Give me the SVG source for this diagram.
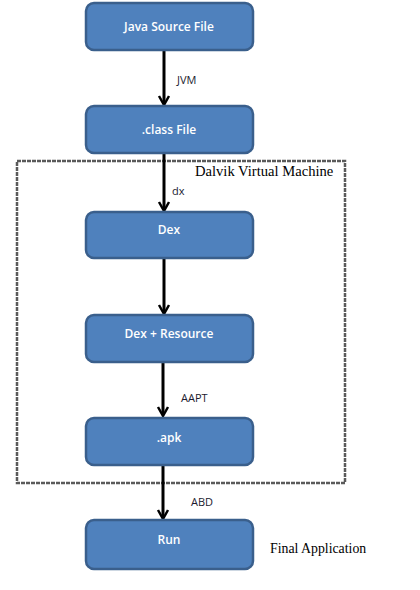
<svg xmlns="http://www.w3.org/2000/svg" width="420" height="590" viewBox="0 0 420 590">
<defs>
<style>
.node rect{fill:#4F81BD;stroke:#3A5F8C;stroke-width:2.5}
.node text{fill:#fff;font-family:"Open Sans","Liberation Sans",sans-serif;font-size:12px;font-weight:600;text-anchor:middle}
.lbl{fill:#1a1a2e;font-family:"Open Sans","Liberation Sans",sans-serif;font-size:11px}
.ser{fill:#000;font-family:"Liberation Serif",serif;font-size:14.6px}
.conn line{stroke:#000;stroke-width:3}
.conn path{fill:none;stroke:#000;stroke-width:2.5}
</style>
</defs>
<rect x="17" y="161" width="328" height="322" fill="none" stroke="#5a5a5a" stroke-width="2.5" stroke-dasharray="4 1"/>
<text class="ser" x="195" y="176">Dalvik Virtual Machine</text>
<g class="conn">
<line x1="164" y1="51" x2="164" y2="104"/><path d="M159 96 L164 105 L169 96"/>
<line x1="164" y1="154" x2="164" y2="210"/><path d="M159 202 L164 211 L169 202"/>
<line x1="164" y1="258" x2="164" y2="313"/><path d="M159 305 L164 314 L169 305"/>
<line x1="163" y1="363" x2="163" y2="415"/><path d="M158 407 L163 416 L168 407"/>
<line x1="163" y1="466" x2="163" y2="518"/><path d="M158 510 L163 519 L168 510"/>
</g>
<text class="lbl" x="177" y="84">JVM</text>
<text class="lbl" x="172" y="195">dx</text>
<text class="lbl" x="181" y="402">AAPT</text>
<text class="lbl" x="191" y="506">ABD</text>
<g id="java" class="node"><rect x="86" y="3" width="167" height="47" rx="8"/><text x="169" y="31">Java Source File</text></g>
<g id="class" class="node"><rect x="86" y="106" width="167" height="47" rx="8"/><text x="169" y="134">.class File</text></g>
<g id="dex" class="node"><rect x="86" y="212" width="167" height="46" rx="8"/><text x="169" y="234">Dex</text></g>
<g id="dexres" class="node"><rect x="86" y="315" width="167" height="47" rx="8"/><text x="169" y="338">Dex + Resource</text></g>
<g id="apk" class="node"><rect x="86" y="418" width="167" height="47" rx="8"/><text x="169" y="442">.apk</text></g>
<g id="run" class="node"><rect x="86" y="520" width="167" height="49" rx="8"/><text x="169" y="544">Run</text></g>
<text class="ser" x="270" y="553" style="font-size:13.8px">Final Application</text>
</svg>
